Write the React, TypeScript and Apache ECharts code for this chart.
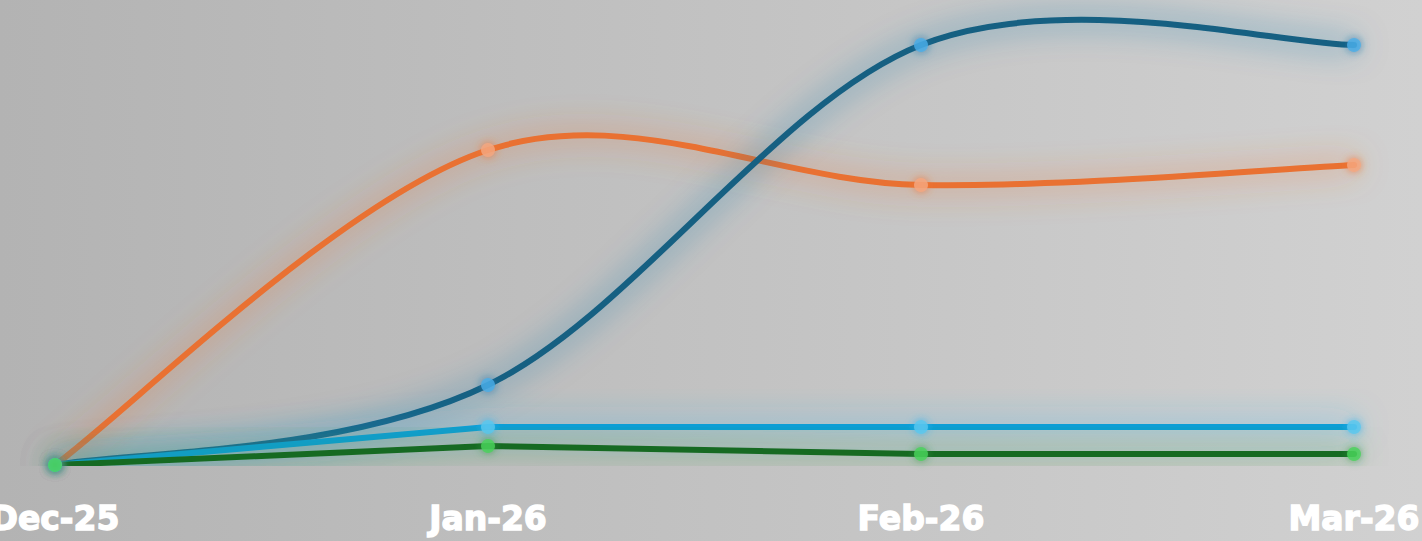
import React, { useEffect, useRef } from "react";
import * as echarts from "echarts";

const categories = ["Dec-25", "Jan-26", "Feb-26", "Mar-26"];
const darkBlueValues = [0, 80, 420, 420];
const orangeValues = [0, 315, 280, 300];
const lightBlueValues = [0, 38, 38, 38];
const greenValues = [0, 19, 11, 11];

type Spec = { name: string; values: number[]; smooth: boolean; line: string; glow: string; dot: string };

const specs: Spec[] = [
  { name: "Orange", values: orangeValues, smooth: true, line: "#e97132", glow: "rgba(240,118,48,1)", dot: "#f5a880" },
  { name: "Dark Blue", values: darkBlueValues, smooth: true, line: "#156082", glow: "rgba(30,115,170,0.95)", dot: "#48aee8" },
  { name: "Light Blue", values: lightBlueValues, smooth: false, line: "#0f9ed5", glow: "rgba(45,180,240,1)", dot: "#5ac8ef" },
  { name: "Green", values: greenValues, smooth: false, line: "#196b24", glow: "rgba(50,150,60,0.9)", dot: "#48d35a" },
];

function lineSeries(s: Spec) {
  return {
    name: s.name,
    type: "custom",
    data: s.values.map((v, i) => [i, v]),
    encode: { x: 0, y: 1 },
    z: 2,
    renderItem: (params: any, api: any) => {
      if (params.dataIndex !== 0) return null;
      const pts = s.values.map((v, i) => api.coord([i, v]));
      const n = pts.length;
      const P = (i: number) => pts[Math.max(0, Math.min(n - 1, i))];
      let d = `M${pts[0][0]},${pts[0][1]}`;
      for (let i = 0; i < n - 1; i++) {
        const p0 = P(i - 1), p1 = P(i), p2 = P(i + 1), p3 = P(i + 2);
        if (s.smooth) {
          const c1x = p1[0] + (p2[0] - p0[0]) / 6;
          const c1y = p1[1] + (p2[1] - p0[1]) / 6;
          const c2x = p2[0] - (p3[0] - p1[0]) / 6;
          const c2y = p2[1] - (p3[1] - p1[1]) / 6;
          d += ` C${c1x},${c1y} ${c2x},${c2y} ${p2[0]},${p2[1]}`;
        } else {
          d += ` L${p2[0]},${p2[1]}`;
        }
      }
      const cs = params.coordSys;
      return {
        type: "path",
        shape: { pathData: d },
        style: {
          fill: "none",
          stroke: s.line,
          lineWidth: 6,
          lineCap: "round",
          lineJoin: "round",
          shadowBlur: 32,
          shadowColor: s.glow,
        },
        clipPath: { type: "rect", shape: { x: -50, y: -50, width: 1600, height: cs.y + cs.height + 48 } },
      };
    },
  };
}

function markerSeries(s: Spec) {
  return {
    name: s.name + " markers",
    type: "scatter",
    data: s.values.map((v, i) => [i, v]),
    symbol: "circle",
    symbolSize: 14,
    z: 3,
    itemStyle: { color: s.dot, shadowBlur: 9, shadowColor: s.glow },
    emphasis: { disabled: true },
  };
}

export default function App() {
  const ref = useRef<HTMLDivElement>(null);
  useEffect(() => {
    document.body.style.margin = "0";
    const chart = echarts.init(ref.current!, undefined, { renderer: "svg" });
    chart.setOption({
      animation: false,
      backgroundColor: new echarts.graphic.LinearGradient(0, 0, 1, 0, [
        { offset: 0, color: "#b3b3b3" },
        { offset: 1, color: "#d1d1d1" },
      ]),
      grid: { left: 55, right: 68, top: 0, bottom: 73, containLabel: false, outerBoundsMode: "none" },
      xAxis: {
        type: "category",
        data: categories,
        boundaryGap: false,
        axisLine: { show: false },
        axisTick: { show: false },
        splitLine: { show: false },
        axisLabel: {
          color: "#ffffff",
          fontFamily: "DejaVu Sans",
          fontWeight: "bold",
          fontSize: 33,
          textBorderColor: "#ffffff",
          textBorderWidth: 1.4,
          margin: 34,
          showMinLabel: true,
          showMaxLabel: true,
          hideOverlap: false,
          interval: 0,
        },
      },
      yAxis: { type: "value", min: -3, max: 465, show: false, splitLine: { show: false } },
      series: [...specs.map(lineSeries), ...specs.map(markerSeries)],
    });
    return () => chart.dispose();
  }, []);
  return <div ref={ref} style={{ position: "fixed", left: 0, top: 0, width: 1422, height: 541 }} />;
}
